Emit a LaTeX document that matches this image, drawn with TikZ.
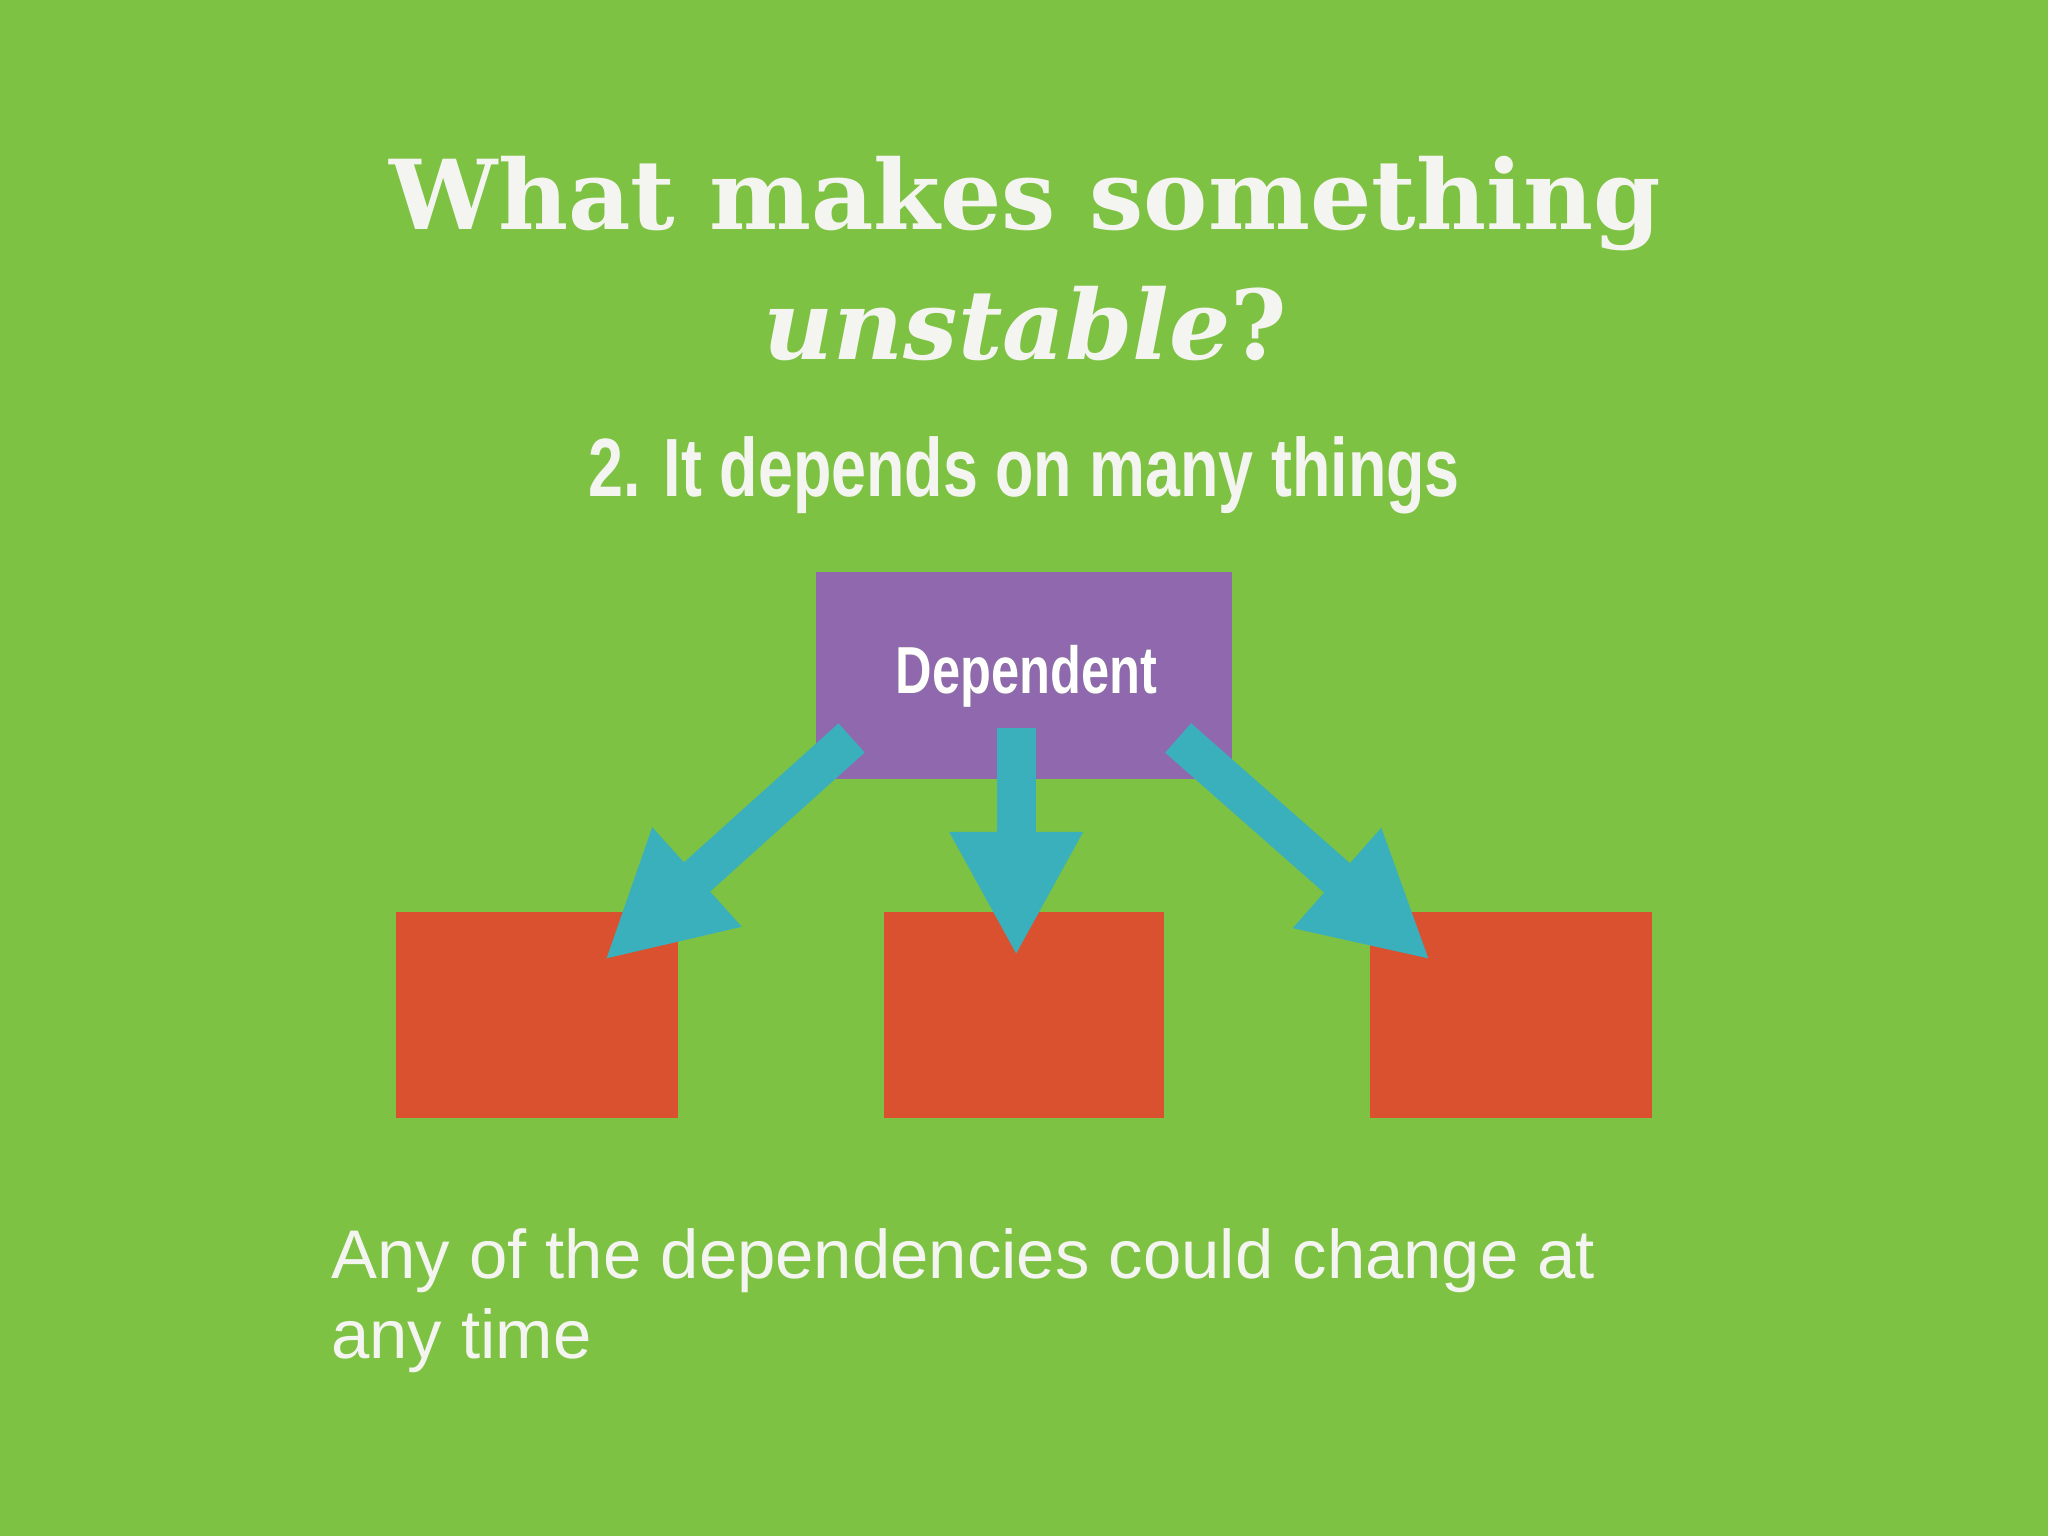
\documentclass[tikz,border=0pt]{standalone}
\usepackage{fontspec}
\setmainfont{Liberation Sans}
\newfontfamily\titlefont{DejaVu Serif}
\usetikzlibrary{arrows.meta,shadows}
\definecolor{bg}{HTML}{7DC243}
\definecolor{purp}{HTML}{9068AE}
\definecolor{redb}{HTML}{D9512F}
\definecolor{cyanarr}{HTML}{3AB0BC}
\definecolor{wt}{HTML}{F4F4F0}
\begin{document}
\begin{tikzpicture}[x=0.01cm,y=-0.01cm,
  box/.style={fill=redb,draw=none},
  bigarrow/.style={draw=cyanarr,line width=0.3cm,-{Triangle[length=0.95cm,width=0.95cm]}}]
\fill[bg] (0,0) rectangle (1568,1176);
\useasboundingbox (0,0) rectangle (1568,1176);
\node[text=wt,font=\titlefont\bfseries\fontsize{21pt}{24pt}\selectfont] (t1) at (785,156) {What makes something};
\node[text=wt,font=\titlefont\bfseries\fontsize{21pt}{24pt}\selectfont] (t2) at (785,248) {\textit{unstable}?};
\node[text=wt,font=\bfseries\fontsize{18pt}{20pt}\selectfont] (sub) at (784,364) {\scalebox{0.76}[1]{2. It depends on many things}};
\fill[box] (303,698) rectangle (519,856);
\fill[box] (677,698) rectangle (891,856);
\fill[box] (1049,698) rectangle (1265,856);
\coordinate (r1) at (463,735);
\coordinate (r2) at (778,732);
\coordinate (r3) at (1095,735);
\node[fill=purp,minimum width=3.18cm,minimum height=1.58cm,inner sep=0] (dep) at (784,517) {};
\node[text=white,font=\bfseries\fontsize{14.5pt}{16pt}\selectfont] (deplabel) at (786,518)
  {\scalebox{0.76}[1]{\tikz[baseline]{\node[inner sep=0,anchor=base,text=black!65] at (0.03,-0.03) {Dependent};\node[inner sep=0,anchor=base,text=white] at (0,0) {Dependent};}}};
\coordinate (a1) at (652,565);
\coordinate (a2) at (778,557);
\coordinate (a3) at (902,565);
\draw[bigarrow] (a1) -- (r1);
\draw[bigarrow] (a2) -- (r2);
\draw[bigarrow] (a3) -- (r3);
\node[text=wt,anchor=north west,align=left,font=\fontsize{15pt}{17.5pt}\selectfont,inner sep=0] (note) at (253,940)
  {Any of the dependencies could change at\\any time};
\end{tikzpicture}
\end{document}
